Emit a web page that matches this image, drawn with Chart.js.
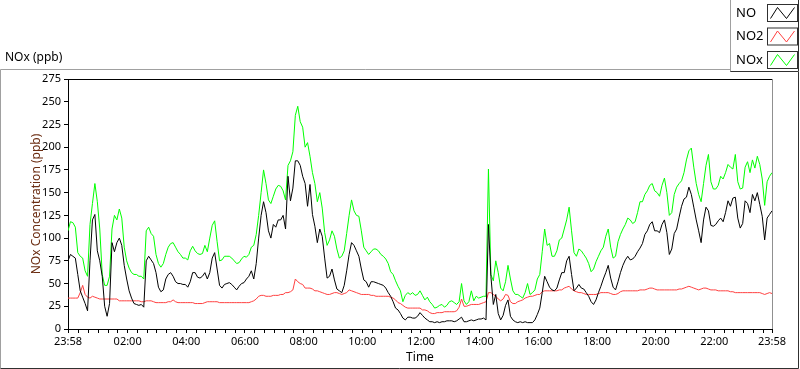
<!DOCTYPE html>
<html>
<head>
<meta charset="utf-8">
<script src="https://cdn.jsdelivr.net/npm/chart.js@4.4.0/dist/chart.umd.min.js"></script>
<style>
html, body { margin: 0; padding: 0; background: #fff; }
canvas { display: block; }
</style>
</head>
<body>
<canvas id="myChart" width="800" height="369"></canvas>
<script>
"use strict";

// sampled every 5 minutes from 23:58 to 23:58 next day
const stepMinutes = 5;

const seriesNames = ['NO', 'NO2', 'NOx'];
const seriesColors = ['#000000', '#ff4040', '#00ff00'];

const no = [
	75,82,80,78,60,42,35,28,20,75,120,126,86,75,58,25,14,28,95,85,95,100,92,70,55,42,34,28,27,26,27,24,75,80,76,72,62,46,41,43,55,60,62,58,52,50,50,49,49,
	46,52,62,62,57,56,58,62,55,62,78,84,66,48,45,49,50,51,49,46,43,47,50,51,55,58,64,55,72,100,125,140,128,108,100,115,112,120,120,125,110,168,141,155,185,185,180,168,
	160,135,159,126,113,95,110,102,78,56,58,66,54,44,42,40,48,64,82,95,92,86,80,66,54,52,46,52,52,51,50,49,48,45,40,36,30,23,21,17,12,10,13,13,12,12,14,18,
	15,12,10,8,8,7,8,7,8,8,9,9,9,8,9,11,13,8,8,9,10,9,10,11,11,12,10,115,58,27,38,17,10,15,26,32,14,10,8,7,8,7,8,7,7,7,10,16,
	23,40,58,52,46,43,42,45,54,62,62,75,80,60,42,45,49,45,44,40,36,30,27,32,40,47,55,62,70,56,46,43,52,62,70,76,80,76,77,80,85,89,94,104,108,115,118,108,
	108,106,115,120,106,82,88,105,110,123,135,143,145,156,148,134,120,108,95,120,134,130,114,113,115,119,122,118,128,141,135,144,145,122,111,116,141,138,128,148,141,150,137,124,98,122,126,130
];

const no2 = [
	34,34,34,34,34,40,48,38,35,34,36,35,34,33,33,33,33,33,33,33,33,31,31,31,31,31,31,31,31,31,30,30,31,31,31,30,29,29,29,29,29,30,30,32,30,29,29,29,29,
	29,29,29,28,28,28,28,29,30,30,30,30,30,29,29,29,29,29,29,29,29,29,29,29,29,29,30,31,33,36,37,37,36,36,36,37,37,37,38,38,40,40,41,43,55,52,50,49,
	45,45,45,44,42,42,41,40,39,38,38,39,40,40,39,38,39,40,43,42,41,40,39,38,38,38,38,37,37,36,36,36,36,36,36,35,34,32,29,28,26,24,23,23,23,23,23,23,
	21,21,20,18,17,17,18,18,18,19,19,19,19,19,20,24,33,25,25,26,27,27,27,27,28,29,30,40,40,38,36,33,31,33,38,37,30,28,28,30,31,32,34,35,36,36,37,38,
	38,41,42,42,42,42,42,42,43,43,45,46,47,44,42,41,40,40,39,38,38,38,38,38,39,40,40,40,40,39,38,38,39,41,42,42,42,42,42,42,42,43,43,43,44,45,45,44,
	43,43,43,43,43,43,43,43,43,44,44,45,46,47,46,45,44,43,44,45,45,44,43,43,43,42,42,42,42,42,41,41,40,40,40,40,40,40,40,40,40,40,40,39,38,39,40,39
];

const nox = [
	108,118,117,112,84,80,78,64,58,115,138,160,140,110,60,48,48,58,110,125,120,132,122,90,75,67,62,60,60,58,58,55,108,112,105,102,82,72,68,72,82,90,94,95,90,85,82,78,78,
	76,86,91,86,83,82,83,92,85,100,114,119,96,75,76,80,80,80,78,75,72,73,77,80,79,82,90,92,104,125,150,175,160,142,138,146,154,158,157,152,142,180,185,195,235,245,228,222,
	200,205,190,172,160,140,150,133,106,92,98,108,102,88,78,80,86,105,125,142,130,125,124,108,90,86,82,85,88,88,86,82,80,77,72,63,60,53,47,42,30,37,40,38,40,37,38,42,
	37,32,35,30,27,23,24,26,27,24,26,30,31,29,27,30,50,31,27,30,42,31,36,34,35,36,36,176,60,53,75,62,45,42,52,70,55,42,38,38,36,34,40,50,38,40,43,55,
	60,85,110,92,94,80,80,86,98,100,110,120,134,108,84,80,88,86,82,78,72,63,66,74,80,86,90,102,110,90,78,80,96,104,110,115,122,120,116,118,128,140,140,148,152,158,160,152,
	150,146,158,166,150,125,128,148,156,160,163,172,186,196,199,178,160,148,140,160,180,192,162,154,154,158,168,165,172,181,178,176,192,162,154,155,178,184,172,186,177,190,181,165,136,162,168,172
];

// minutes after 23:58
const tickMinutes = [0, 122, 242, 362, 482, 602, 722, 842, 962, 1082, 1202, 1322, 1440];
const tickLabels = ['23:58', '02:00', '04:00', '06:00', '08:00', '10:00', '12:00', '14:00', '16:00', '18:00', '20:00', '22:00', '23:58'];
const minorTickStep = 20;

const yMin = 0;
const yMax = 275;
const yStep = 25;

const fontFamily = "'Noto Sans', 'Liberation Sans', sans-serif";

const toPoints = (arr) => arr.map((v, i) => ({ x: i * stepMinutes, y: v }));

const seriesData = [no, no2, nox];

const frame = {
	id: 'frame',
	beforeDraw(chart) {
		const ctx = chart.ctx;
		ctx.save();
		ctx.fillStyle = '#fff';
		ctx.fillRect(0, 0, chart.width, chart.height);
		// outer panel
		ctx.lineWidth = 1;
		ctx.strokeStyle = '#a0a0a0';
		ctx.beginPath();
		ctx.moveTo(0.5, 368.5);
		ctx.lineTo(0.5, 69.5);
		ctx.lineTo(730, 69.5);
		ctx.stroke();
		ctx.strokeStyle = '#303030';
		ctx.beginPath();
		ctx.moveTo(798.5, 72);
		ctx.lineTo(798.5, 368.5);
		ctx.lineTo(0.5, 368.5);
		ctx.stroke();

		ctx.fillStyle = '#000';
		ctx.font = '12px ' + fontFamily;
		ctx.textBaseline = 'middle';
		ctx.fillText('NOx (ppb)', 5, 58);
		ctx.restore();
	},
	afterDatasetsDraw(chart) {
		const ctx = chart.ctx;
		const a = chart.chartArea;
		ctx.save();
		ctx.lineWidth = 1;
		ctx.strokeStyle = '#000';
		ctx.beginPath();
		ctx.moveTo(a.left, a.top + 0.5);
		ctx.lineTo(a.right, a.top + 0.5);
		ctx.stroke();
		ctx.strokeStyle = '#909090';
		ctx.beginPath();
		ctx.moveTo(a.right + 0.5, a.top);
		ctx.lineTo(a.right + 0.5, a.bottom);
		ctx.stroke();
		ctx.restore();
	},
	afterDraw(chart) {
		// legend with zigzag swatches, text left of swatch
		const ctx = chart.ctx;
		ctx.save();
		ctx.fillStyle = '#fff';
		ctx.fillRect(730, 0, 69, 72);
		ctx.lineWidth = 1;
		ctx.strokeStyle = '#a0a0a0';
		ctx.beginPath();
		ctx.moveTo(730.5, 72);
		ctx.lineTo(730.5, 0);
		ctx.stroke();
		ctx.strokeStyle = '#303030';
		ctx.beginPath();
		ctx.moveTo(730.5, 71.5);
		ctx.lineTo(798.5, 71.5);
		ctx.lineTo(798.5, 0);
		ctx.stroke();

		ctx.font = '13px ' + fontFamily;
		ctx.textBaseline = 'middle';
		chart.data.datasets.forEach((ds, i) => {
			const cy = 13 + i * 23.5;
			ctx.fillStyle = '#000';
			ctx.fillText(ds.label, 736, cy);
			const bx = 767.5, by = cy - 8.5, bw = 30, bh = 17;
			ctx.strokeStyle = '#303030';
			ctx.strokeRect(bx, by, bw, bh);
			ctx.strokeStyle = ds.borderColor;
			ctx.beginPath();
			ctx.moveTo(bx + 3, by + bh - 3);
			ctx.lineTo(bx + 10, by + 3);
			ctx.lineTo(bx + 19, by + bh - 3);
			ctx.lineTo(bx + bw - 3, by + 3);
			ctx.stroke();
		});
		ctx.restore();
	}
};

const datasets = seriesNames.map((name, i) => ({
	label: name,
	data: toPoints(seriesData[i]),
	borderColor: seriesColors[i],
	backgroundColor: seriesColors[i],
	borderWidth: 1,
	pointRadius: 0,
	tension: 0,
	fill: false
}));

const config = {
	type: 'line',
	data: { datasets: datasets },
	options: {
		responsive: false,
		animation: false,
		devicePixelRatio: 1,
		layout: { padding: { left: 25, top: 79, right: 28, bottom: 0 } },
		plugins: {
			legend: { display: false },
			tooltip: { enabled: false }
		},
		scales: {
			x: {
				type: 'linear',
				min: 0,
				max: 1440,
				afterBuildTicks: (scale) => {
					const ticks = [{ value: 0 }];
					for (let m = tickMinutes[1] % minorTickStep; m < 1440; m += minorTickStep) {
						if (m > 0) ticks.push({ value: m });
					}
					ticks.push({ value: 1440 });
					scale.ticks = ticks;
				},
				afterFit: (scale) => { scale.height = 40; },
				ticks: {
					autoSkip: false,
					maxRotation: 0,
					padding: 2,
					color: '#000',
					font: { family: fontFamily, size: 11 },
					callback: (v) => {
						const idx = tickMinutes.indexOf(v);
						return idx >= 0 ? tickLabels[idx] : '';
					}
				},
				grid: { drawOnChartArea: false, tickLength: 4, tickColor: '#000' },
				border: { color: '#000' },
				title: {
					display: true,
					text: 'Time',
					color: '#000',
					font: { family: fontFamily, size: 12 },
					padding: { top: 0, bottom: 4 }
				}
			},
			y: {
				min: yMin,
				max: yMax,
				afterFit: (scale) => { scale.width = 43; },
				ticks: {
					stepSize: yStep,
					padding: 3,
					color: '#000',
					font: { family: fontFamily, size: 11 }
				},
				grid: { drawOnChartArea: false, tickLength: 4, tickColor: '#000' },
				border: { color: '#000' },
				title: {
					display: true,
					text: 'NOx Concentration (ppb)',
					color: '#6b2d12',
					font: { family: fontFamily, size: 12 },
					padding: 4
				}
			}
		}
	},
	plugins: [frame]
};

const myChart = new Chart(document.getElementById('myChart'), config);
</script>
</body>
</html>
